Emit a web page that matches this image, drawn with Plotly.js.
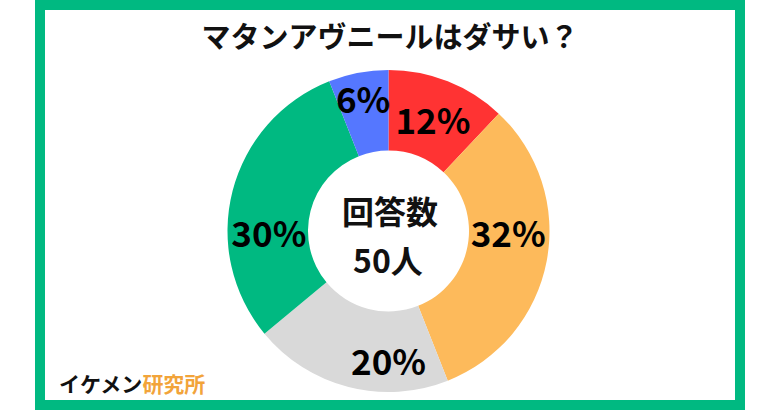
<!DOCTYPE html>
<html>
<head>
<meta charset="utf-8">
<script src="https://cdn.plot.ly/plotly-3.0.1.min.js"></script>
<style>html,body{margin:0;padding:0;background:#fff;}#chart{width:780px;height:410px;}</style>
</head>
<body>
<div id="chart"></div>
<script>
const categories = ["選択肢A", "選択肢B", "選択肢C", "選択肢D", "選択肢E"];
const values = [12, 32, 20, 30, 6];
const colors = ["#FF3333", "#FDBA5B", "#D9D9D9", "#00B981", "#5577FF"];
const titleText = "マタンアヴニールはダサい？";
const centerLine1 = "回答数";
const centerLine2 = "50人";
const brandBlack = "イケメン";
const brandOrange = "研究所";

const FONT = '"Noto Sans CJK JP", "Noto Sans", sans-serif';

const trace = {
  type: 'pie',
  labels: categories,
  values: values,
  hole: 0.5,
  sort: false,
  direction: 'clockwise',
  rotation: 0,
  marker: {colors: colors, line: {width: 0}},
  texttemplate: '%{value}%',
  textposition: 'inside',
  insidetextorientation: 'horizontal',
  textfont: {family: FONT, size: 35, color: '#000', weight: 'bold'},
  domain: {x: [227/780, 550/780], y: [18/410, 340/410]},
  showlegend: false,
  hoverinfo: 'skip'
};

const layout = {
  width: 780, height: 410,
  margin: {l: 0, r: 0, t: 0, b: 0},
  paper_bgcolor: '#fff',
  plot_bgcolor: '#fff',
  font: {family: FONT},
  title: {
    text: titleText,
    font: {family: FONT, size: 29, color: '#111', weight: 'bold'},
    x: 0.5, xanchor: 'center',
    y: 1 - 38/410, yanchor: 'middle'
  },
  uniformtext: {mode: 'show', minsize: 35},
  shapes: [{
    type: 'rect', xref: 'paper', yref: 'paper',
    x0: 40/780, x1: 740/780, y0: 5/410, y1: 1 - 5/410,
    line: {color: '#00B981', width: 10},
    fillcolor: 'rgba(0,0,0,0)'
  }],
  annotations: [
    {
      text: centerLine1, showarrow: false,
      xref: 'paper', yref: 'paper',
      x: 390/780, y: 1 - 210/410, xanchor: 'center', yanchor: 'middle',
      font: {family: FONT, size: 32, color: '#111', weight: 'bold'}
    },
    {
      text: centerLine2, showarrow: false,
      xref: 'paper', yref: 'paper',
      x: 388/780, y: 1 - 259/410, xanchor: 'center', yanchor: 'middle',
      font: {family: FONT, size: 32, color: '#111', weight: 'bold'}
    },
    {
      text: brandBlack + '<span style="color:#F2A43A">' + brandOrange + '</span>',
      showarrow: false,
      xref: 'paper', yref: 'paper',
      x: 57/780, y: 1 - 383/410, xanchor: 'left', yanchor: 'middle',
      font: {family: FONT, size: 21, color: '#111', weight: 'bold'}
    }
  ]
};

Plotly.newPlot('chart', [trace], layout, {displayModeBar: false, staticPlot: true});
</script>
</body>
</html>
